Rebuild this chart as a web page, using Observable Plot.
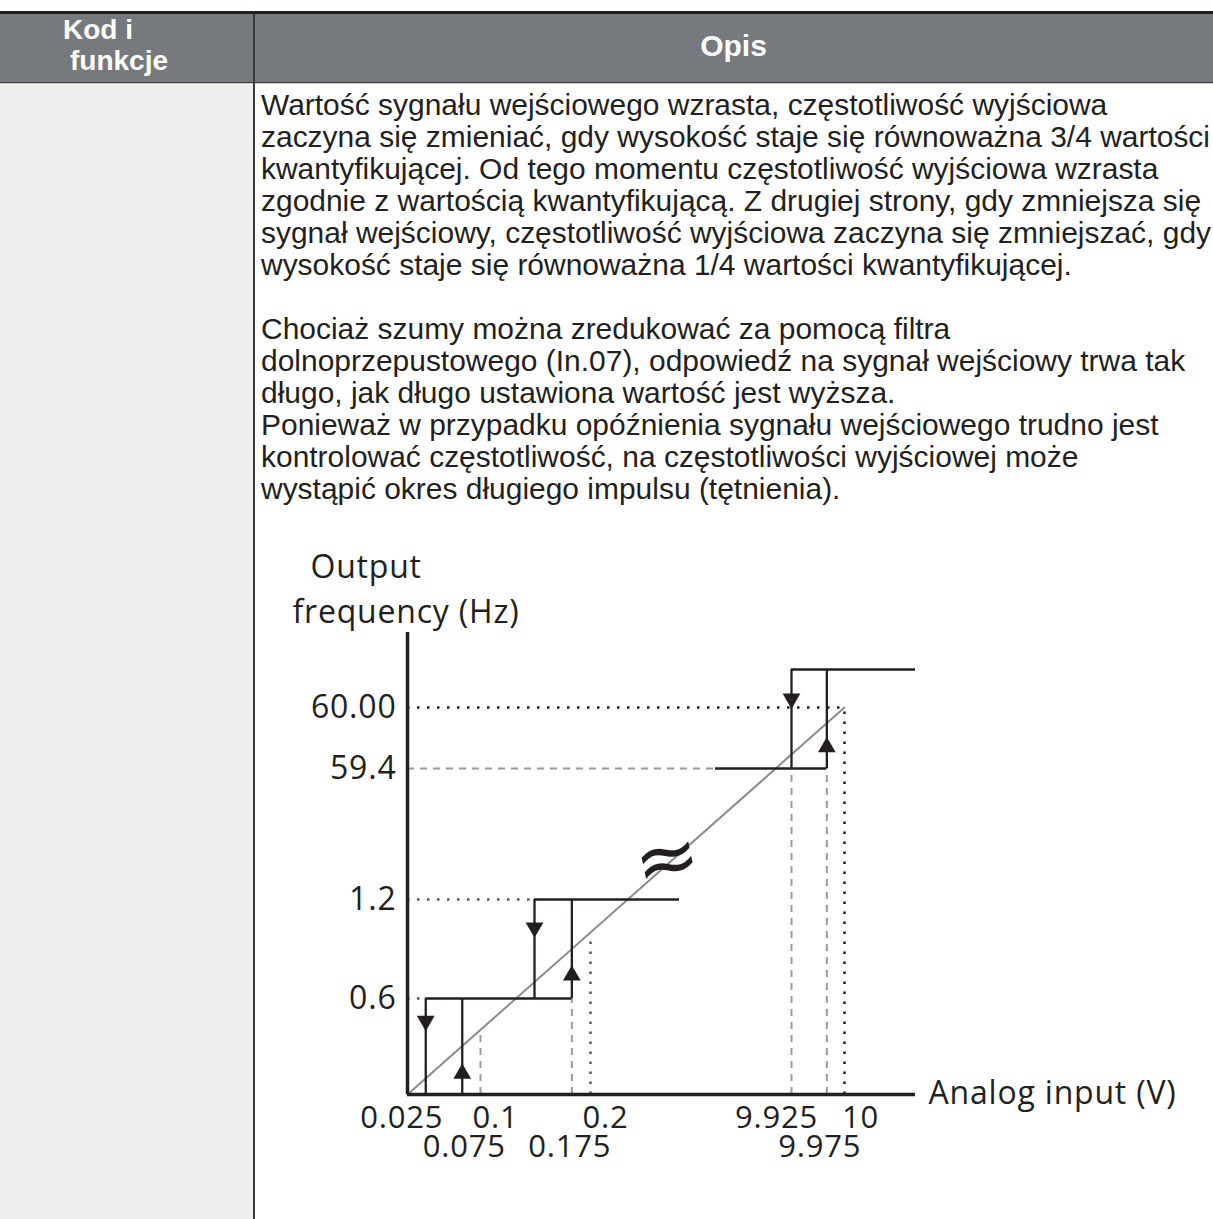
<!DOCTYPE html>
<html>
<head>
<meta charset="utf-8">
<script src="https://cdn.jsdelivr.net/npm/d3@7"></script>
<script src="https://cdn.jsdelivr.net/npm/@observablehq/plot@0.6"></script>
<style>
html, body { margin: 0; padding: 0; background: #fff; }
body { width: 1213px; height: 1219px; position: relative; overflow: hidden; font-family: "Liberation Sans", Arial, sans-serif; }
#topline { position: absolute; left: 0; top: 11px; width: 1213px; height: 3px; background: #231f20; }
#header { position: absolute; left: 0; top: 14px; width: 1213px; height: 68px; background: #767a7e; border-bottom: 1px solid #3a3a3a; }
#hsep { position: absolute; left: 0; top: 83px; width: 1213px; height: 1px; background: #cfcfcf; }
#leftcol { position: absolute; left: 0; top: 84px; width: 253px; height: 1135px; background: #eeeeee; }
#vline { position: absolute; left: 253px; top: 14px; width: 2px; height: 1205px; background: #3b3b3b; }
.h { position: absolute; color: #fff; font-weight: bold; font-size: 28px; line-height: 28px; white-space: nowrap; }
#opis { position: absolute; left: 261px; top: 89px; font-family: "Liberation Sans Narrow", "Arial Narrow", "Liberation Sans", Arial, sans-serif; font-size: 30px; line-height: 32px; color: #231f20; white-space: nowrap; transform-origin: 0 0; }
#opis div { height: 32px; }
#chart { position: absolute; left: 0; top: 0; width: 1213px; height: 1219px; }
#chart svg { max-width: none !important; }
</style>
</head>
<body>
<div id="topline"></div>
<div id="header"></div>
<div id="hsep"></div>
<div id="leftcol"></div>
<div id="vline"></div>
<div class="h" style="left:63px; top:16px;">Kod i</div>
<div class="h" style="left:70px; top:47px;">funkcje</div>
<div class="h" style="left:254px; width:959px; text-align:center; top:32px; font-size:30px;">Opis</div>
<div id="opis"></div>
<div id="chart"></div>
<script>
// ---- Description text lines ----
const opisLines = [
  "Wartość sygnału wejściowego wzrasta, częstotliwość wyjściowa",
  "zaczyna się zmieniać, gdy wysokość staje się równoważna 3/4 wartości",
  "kwantyfikującej. Od tego momentu częstotliwość wyjściowa wzrasta",
  "zgodnie z wartością kwantyfikującą. Z drugiej strony, gdy zmniejsza się",
  "sygnał wejściowy, częstotliwość wyjściowa zaczyna się zmniejszać, gdy",
  "wysokość staje się równoważna 1/4 wartości kwantyfikującej.",
  "",
  "Chociaż szumy można zredukować za pomocą filtra",
  "dolnoprzepustowego (In.07), odpowiedź na sygnał wejściowy trwa tak",
  "długo, jak długo ustawiona wartość jest wyższa.",
  "Ponieważ w przypadku opóźnienia sygnału wejściowego trudno jest",
  "kontrolować częstotliwość, na częstotliwości wyjściowej może",
  "wystąpić okres długiego impulsu (tętnienia)."
];

// ---- Chart data ----
const xBreaks = [0, 0.1, 0.125, 0.2, 0.3, 9.825, 9.925, 10, 10.1];
const yBreaks = [0, 0.6, 1.2, 59.4, 60, 60.6, 61.2];

const yTickValues = [0.6, 1.2, 59.4, 60];
const yTickLabels = ["0.6", "1.2", "59.4", "60.00"];
const xTickRow1 = [0.025, 0.1, 0.2, 9.925, 10];
const xTickRow1Labels = ["0.025", "0.1", "0.2", "9.925", "10"];
const xTickRow2 = [0.075, 0.175, 9.975];
const xTickRow2Labels = ["0.075", "0.175", "9.975"];

const stepVerticals = [
  {x: 0.025, y1: 0, y2: 0.6}, {x: 0.075, y1: 0, y2: 0.6},
  {x: 0.125, y1: 0.6, y2: 1.2}, {x: 0.175, y1: 0.6, y2: 1.2},
  {x: 9.925, y1: 59.4, y2: 60.6}, {x: 9.975, y1: 59.4, y2: 60.6}
];
const stepHorizontals = [
  {y: 0.6, x1: 0.025, x2: 0.175}, {y: 1.2, x1: 0.125, x2: 0.3},
  {y: 59.4, x1: 9.825, x2: 9.975}, {y: 60.6, x1: 9.925, x2: 10.1}
];
const downArrows = [{x: 0.025, y: 0.46}, {x: 0.125, y: 1.03}, {x: 9.925, y: 60.14}];
const upArrows = [{x: 0.075, y: 0.13}, {x: 0.175, y: 0.74}, {x: 9.975, y: 59.61}];

const dottedBlackH = [{y: 60, x1: 0, x2: 10}];
const dottedBlackV = [{x: 10, y1: 0, y2: 60}];
const dottedGrayH = [{y: 0.6, x1: 0, x2: 0.025}, {y: 1.2, x1: 0, x2: 0.125}];
const dottedGrayV = [{x: 0.2, y1: 0, y2: 0.97}];
const dashedH = [{y: 59.4, x1: 0, x2: 9.825}];
const dashedV = [
  {x: 0.1, y1: 0, y2: 0.4}, {x: 0.175, y1: 0, y2: 0.6},
  {x: 9.925, y1: 0, y2: 59.4}, {x: 9.975, y1: 0, y2: 59.4}
];
const diagonal = [{x: 0, y: 0}, {x: 10, y: 60}];

// ---- Text block ----
const opis = document.getElementById("opis");
let probe = null;
opisLines.forEach((t, i) => {
  const d = document.createElement("div");
  const s = document.createElement("span");
  s.textContent = t;
  d.appendChild(s);
  opis.appendChild(d);
  if (i === 1) probe = s;
});
const kx = 949 / probe.getBoundingClientRect().width;
opis.style.transform = `scaleX(${kx})`;

// ---- Chart ----
const ink = "#231f20";
const font = "Open Sans";
const xPix = [407, 480, 534, 590, 679, 715, 791, 844, 915];
const yPix = [1094, 998, 899, 768, 707, 669, 632];
const xLabelShift = {"0.025": -24, "0.1": 15, "0.2": 15, "9.925": -15, "10": 16, "0.075": 2, "0.175": -2, "9.975": -7};

const row1 = xTickRow1.map((v, i) => ({x: v, label: xTickRow1Labels[i]}));
const row2 = xTickRow2.map((v, i) => ({x: v, label: xTickRow2Labels[i]}));
const yTicks = yTickValues.map((v, i) => ({y: v, label: yTickLabels[i]}));

const labelMarks = [
  ...row1.map(d => Plot.text([d], {x: "x", y: () => 0, text: "label", dx: xLabelShift[d.label], dy: 24, fontSize: 31, fill: ink, fontFamily: font})),
  ...row2.map(d => Plot.text([d], {x: "x", y: () => 0, text: "label", dx: xLabelShift[d.label], dy: 53, fontSize: 31, fill: ink, fontFamily: font}))
];

const svg = Plot.plot({
  width: 1213,
  height: 1219,
  margin: 0,
  x: {type: "linear", domain: xBreaks, range: xPix, axis: null},
  y: {type: "linear", domain: yBreaks, range: yPix, axis: null},
  style: {background: "transparent", overflow: "visible", fontFamily: font, maxWidth: "none"},
  marks: [
    // dashed gray guides
    Plot.ruleY(dashedH, {y: "y", x1: "x1", x2: "x2", stroke: "#9a9a9a", strokeWidth: 2, strokeDasharray: "7 6"}),
    Plot.ruleX(dashedV, {x: "x", y1: "y1", y2: "y2", stroke: "#9a9a9a", strokeWidth: 2, strokeDasharray: "7 6"}),
    // dotted guides
    Plot.ruleY(dottedGrayH, {y: "y", x1: "x1", x2: "x2", stroke: "#555", strokeWidth: 2.5, strokeDasharray: "2.5 7.5"}),
    Plot.ruleX(dottedGrayV, {x: "x", y1: "y1", y2: "y2", stroke: "#555", strokeWidth: 2.5, strokeDasharray: "2.5 7.5"}),
    Plot.ruleY(dottedBlackH, {y: "y", x1: "x1", x2: "x2", stroke: ink, strokeWidth: 2.5, strokeDasharray: "2.5 7.5"}),
    Plot.ruleX(dottedBlackV, {x: "x", y1: "y1", y2: "y2", stroke: ink, strokeWidth: 2.5, strokeDasharray: "2.5 7.5"}),
    // ideal diagonal
    Plot.line(diagonal, {x: "x", y: "y", stroke: "#8a8a8a", strokeWidth: 2}),
    // hysteresis steps
    Plot.ruleX(stepVerticals, {x: "x", y1: "y1", y2: "y2", stroke: ink, strokeWidth: 2.3}),
    Plot.ruleY(stepHorizontals, {y: "y", x1: "x1", x2: "x2", stroke: ink, strokeWidth: 2.3}),
    Plot.dot(downArrows, {x: "x", y: "y", symbol: "triangle", r: 6.6, fill: ink, stroke: "none", rotate: 180}),
    Plot.dot(upArrows, {x: "x", y: "y", symbol: "triangle", r: 6.6, fill: ink, stroke: "none"}),
    // axes
    Plot.ruleX([0], {x: d => d, y1: () => 0, y2: () => 61.2, stroke: ink, strokeWidth: 3.5}),
    Plot.ruleY([0], {y: d => d, x1: () => 0, x2: () => 10.1, stroke: ink, strokeWidth: 3.5}),
    // y tick labels
    Plot.text(yTicks, {x: () => 0, y: "y", text: "label", textAnchor: "end", dx: -11, fontSize: 32, fill: ink, fontFamily: font}),
    ...labelMarks,
    // axis titles
    Plot.text(["Output"], {frameAnchor: "top-left", textAnchor: "start", lineAnchor: "middle", dx: 310, dy: 567, fontSize: 32, fill: ink, fontFamily: font}),
    Plot.text(["frequency (Hz)"], {frameAnchor: "top-left", textAnchor: "start", lineAnchor: "middle", dx: 292, dy: 612, fontSize: 32, fill: ink, fontFamily: font}),
    Plot.text(["Analog input (V)"], {x: () => 10.1, y: () => 0, textAnchor: "start", dx: 13, dy: -1, fontSize: 32, fill: ink, fontFamily: font}),
    // axis break symbol
    Plot.text(["≈"], {frameAnchor: "top-left", textAnchor: "middle", lineAnchor: "middle", dx: 667, dy: 859, fontSize: 78, fill: ink, fontFamily: "DejaVu Sans", rotate: -12})
  ]
});
svg.style.position = "absolute";
svg.style.left = "0px";
svg.style.top = "0px";
svg.style.maxWidth = "none";
svg.style.letterSpacing = "0.8px";
document.getElementById("chart").appendChild(svg);
</script>
</body>
</html>
